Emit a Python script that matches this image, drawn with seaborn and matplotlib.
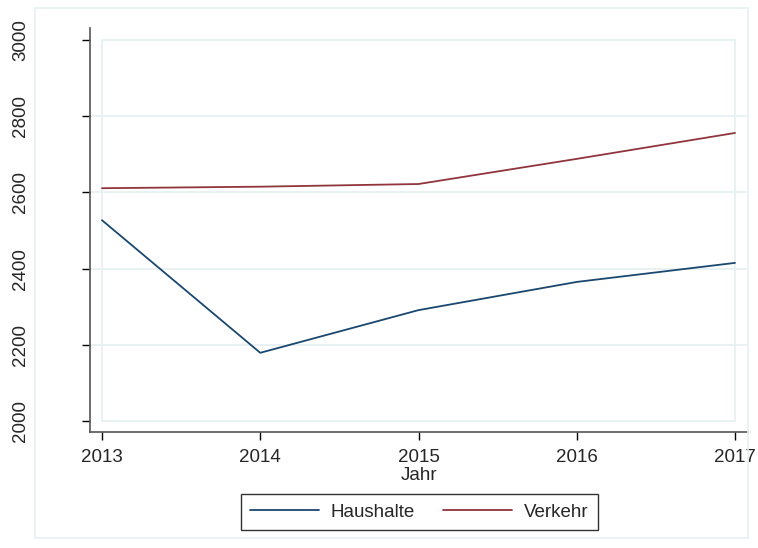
import pandas as pd
import matplotlib.pyplot as plt
import seaborn as sns
from matplotlib.patches import Rectangle
from matplotlib.lines import Line2D

# data
jahre = [2013, 2014, 2015, 2016, 2017]
haushalte = [2527, 2179, 2291, 2365, 2415]
verkehr = [2611, 2615, 2622, 2688, 2756]

df = pd.DataFrame({
    "Jahr": jahre * 2,
    "Wert": haushalte + verkehr,
    "Sektor": ["Haushalte"] * len(jahre) + ["Verkehr"] * len(jahre),
})

sns.set_style("white")
plt.rcParams["font.family"] = ["Liberation Sans", "DejaVu Sans"]

fig = plt.figure(figsize=(7.58, 5.48), dpi=100)
W, H = 758, 548
# axes box (spines) in pixels: x 90-748, y 28-432
ax = fig.add_axes([90 / W, 1 - 432 / H, (748 - 90) / W, (432 - 28) / H])

# outer light frame (graph region)
fig.patches.append(Rectangle((35 / W, 1 - 538 / H), (748 - 35) / W, (538 - 8) / H,
                             transform=fig.transFigure, fill=False,
                             edgecolor="#e8f0f2", linewidth=1.2))

pal = {"Haushalte": "#1a476f", "Verkehr": "#90353b"}
sns.lineplot(data=df, x="Jahr", y="Wert", hue="Sektor", palette=pal,
             linewidth=1.3, ax=ax, legend=False)

ax.set_xlim(2013 - 12 / 158.25, 2017 + 13 / 158.25)
ax.set_ylim(2000 - 11 / 0.381, 3000 + 12 / 0.381)

# plot region box + grid
ax.add_patch(Rectangle((2013, 2000), 4, 1000, fill=False, edgecolor="#e6eff1",
                       linewidth=1.2, zorder=0))
for v in [2200, 2400, 2600, 2800]:
    ax.axhline(v, color="#e6eff1", linewidth=1.2, zorder=0)

ax.set_xticks(jahre)
ax.set_yticks([2000, 2200, 2400, 2600, 2800, 3000])
ax.tick_params(axis="both", which="both", length=6, width=1, color="black",
               labelsize=13.5, bottom=True, left=True)
ax.tick_params(axis="x", pad=6)
ax.tick_params(axis="y", pad=38)
for lab in ax.get_yticklabels():
    lab.set_rotation(90)
    lab.set_va("center")
ax.set_xlabel("Jahr", fontsize=13.5, labelpad=1)
ax.set_ylabel("")

for s in ["top", "right"]:
    ax.spines[s].set_visible(False)
for s in ["left", "bottom"]:
    ax.spines[s].set_color("#555555")
    ax.spines[s].set_linewidth(1.2)

handles = [Line2D([], [], color=pal[k], linewidth=1.3) for k in ["Haushalte", "Verkehr"]]
leg = fig.legend(handles, ["Haushalte", "Verkehr"], loc="center",
                 bbox_to_anchor=(419 / W, 1 - 512 / H), ncol=2, frameon=True,
                 fancybox=False, edgecolor="black", fontsize=13.5,
                 handlelength=3.7, handletextpad=0.6, columnspacing=1.5,
                 borderpad=0.5)
leg.get_frame().set_linewidth(1)

fig.savefig("out.png", dpi=100)
